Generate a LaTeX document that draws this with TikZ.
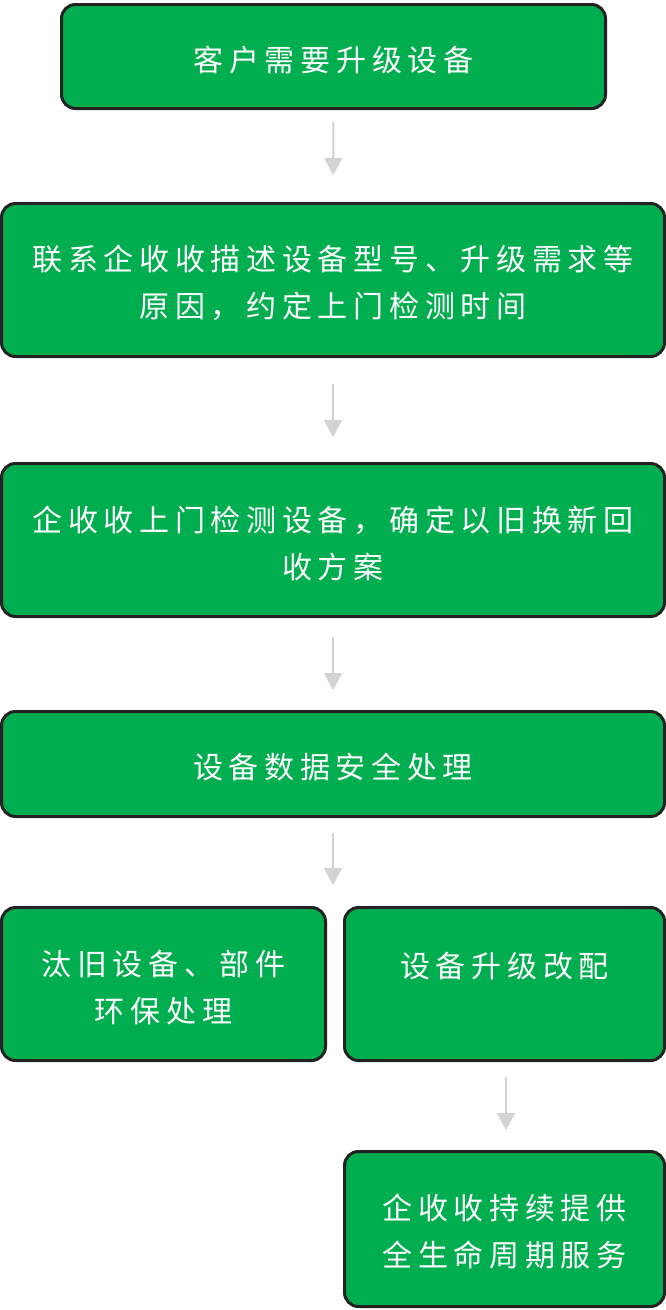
\documentclass[tikz,border=0pt]{standalone}
\usepackage{fontspec}
\newfontfamily\cjk[LetterSpace=19]{Noto Sans CJK SC}
\usetikzlibrary{arrows.meta}
\definecolor{boxgreen}{HTML}{00AE50}
\definecolor{boxedge}{HTML}{222222}
\definecolor{arrowgray}{HTML}{D3D3D3}
\begin{document}
\begin{tikzpicture}[x=1pt,y=-1pt,
  box/.style={draw=boxedge, line width=3pt, fill=boxgreen, rounded corners=14pt,
    inner sep=0pt},
  txt/.style={inner sep=0pt, text=white, align=center,
    font=\cjk\fontsize{30}{47}\selectfont},
  flow/.style={draw=arrowgray, line width=2pt,
    -{Triangle[width=18pt,length=17pt]}}]
\useasboundingbox (0,0) rectangle (666,1310);
\node[box, minimum width=544pt, minimum height=104pt] (b1) at (333.5,56.5) {};
\node[box, minimum width=663pt, minimum height=153pt] (b2) at (333,280) {};
\node[box, minimum width=663pt, minimum height=153pt] (b3) at (333,540) {};
\node[box, minimum width=663pt, minimum height=105pt] (b4) at (333,764) {};
\node[box, minimum width=324pt, minimum height=153pt] (b5a) at (163.5,984) {};
\node[box, minimum width=320pt, minimum height=153pt] (b5b) at (504.5,984) {};
\node[box, minimum width=320pt, minimum height=155pt] (b6) at (504.5,1229) {};
\node[txt] (t1) at ([yshift=-4pt]b1.center) {客户需要升级设备};
\node[txt] (t2) at ([yshift=-3pt]b2.center) {联系企收收描述设备型号、升级需求等\\原因，约定上门检测时间};
\node[txt] (t3) at ([yshift=-3pt]b3.center) {企收收上门检测设备，确定以旧换新回\\收方案};
\node[txt] (t4) at ([yshift=-3pt]b4.center) {设备数据安全处理};
\node[txt] (t5a) at ([yshift=-4pt]b5a.center) {汰旧设备、部件\\环保处理};
\node[txt] (t5b) at (504.5,966) {设备升级改配};
\node[txt] (t6) at ([yshift=-3pt]b6.center) {企收收持续提供\\全生命周期服务};
\coordinate (split) at (333,885);
\draw[flow, shorten <=12pt, shorten >=27pt] (b1.south) -- (b2.north);
\draw[flow, shorten <=26pt, shorten >=25pt] (b2.south) -- (b3.north);
\draw[flow, shorten <=19pt, shorten >=20pt] (b3.south) -- (b4.north);
\draw[flow, shorten <=15pt] (b4.south) -- (split);
\draw[flow, shorten <=15pt, shorten >=20pt] ([xshift=1.5pt]b5b.south) -- ([xshift=1.5pt]b6.north);
\end{tikzpicture}
\end{document}
